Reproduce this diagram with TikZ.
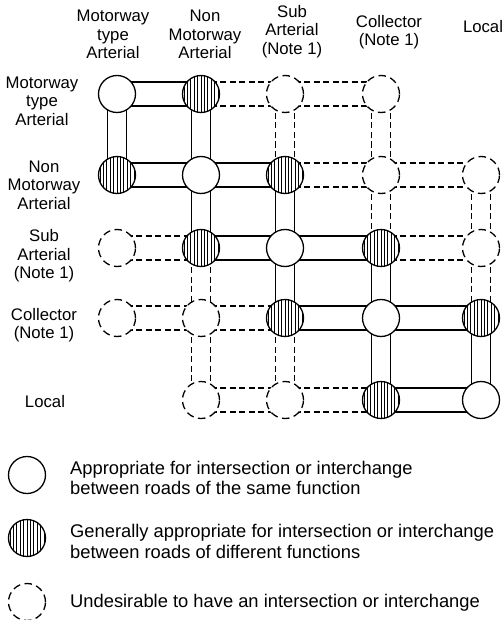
\documentclass[tikz,border=0pt]{standalone}
\usepackage{fontspec}
\setmainfont{Liberation Sans}
\usetikzlibrary{backgrounds}
\begin{document}
\begin{tikzpicture}[x=1bp,y=-1bp,
  jn/.style={circle, minimum size=37bp, inner sep=0pt, line width=1.3bp, draw=black, fill=white},
  same/.style={jn},
  diff/.style={jn, path picture={\foreach \k in {-6,...,6}{\draw[line width=0.8bp] ([xshift=\k*3.4bp]path picture bounding box.north) -- ([xshift=\k*3.4bp]path picture bounding box.south);}}},
  undes/.style={jn, dash pattern=on 7.5bp off 4.5bp},
  hroad/.style={draw=black, line width=1.2bp, double=white, double distance=22.8bp},
  vroad/.style={draw=black, line width=1.2bp, double=white, double distance=18.3bp},
  dashroad/.style={dash pattern=on 6bp off 3.5bp},
  lab/.style={font=\fontsize{16.8}{18.5}\selectfont, align=center, inner sep=0pt},
  leg/.style={font=\fontsize{18.4}{20.5}\selectfont, align=left, anchor=west, inner sep=0pt},
]
\useasboundingbox (0,0) rectangle (503,620);
% headers
\node[lab] (h1) at (113,34.5) {Motorway\\type\\Arterial};
\node[lab] (h2) at (205,34.5) {Non\\Motorway\\Arterial};
\node[lab] (h3) at (292,31.5) {Sub\\Arterial\\(Note 1)};
\node[lab] (h4) at (389,32) {Collector\\(Note 1)};
\node[lab] (h5) at (483,27) {Local};
% row labels
\node[lab] (r1) at (42,101) {Motorway\\type\\Arterial};
\node[lab] (r2) at (44,185) {Non\\Motorway\\Arterial};
\node[lab] (r3) at (44,256) {Sub\\Arterial\\(Note 1)};
\node[lab] (r4) at (44,325) {Collector\\(Note 1)};
\node[lab] (r5) at (45,402) {Local};
% junctions
\node[same]  (n11) at (117,94) {};
\node[diff]  (n12) at (201,94) {};
\node[undes] (n13) at (285,94) {};
\node[undes] (n14) at (381,94) {};
\node[diff]  (n21) at (117,175) {};
\node[same]  (n22) at (201,175) {};
\node[diff]  (n23) at (285,175) {};
\node[undes] (n24) at (381,175) {};
\node[undes] (n25) at (481,175) {};
\node[undes] (n31) at (117,248) {};
\node[diff]  (n32) at (201,248) {};
\node[same]  (n33) at (285,248) {};
\node[diff]  (n34) at (381,248) {};
\node[undes] (n35) at (481,248) {};
\node[undes] (n41) at (117,318) {};
\node[undes] (n42) at (201,318) {};
\node[diff]  (n43) at (285,318) {};
\node[same]  (n44) at (381,318) {};
\node[diff]  (n45) at (481,318) {};
\node[undes] (n52) at (201,400) {};
\node[undes] (n53) at (285,400) {};
\node[diff]  (n54) at (381,400) {};
\node[same]  (n55) at (481,400) {};
% legend
\node[same]  (l1) at (27,475) {};
\node[diff]  (l2) at (27,538) {};
\node[undes] (l3) at (27,602) {};
\node[leg] (t1) at (70,478) {Appropriate for intersection or interchange\\between roads of the same function};
\node[leg] (t2) at (70,541.5) {Generally appropriate for intersection or interchange\\between roads of different functions};
\node[leg] (t3) at (70,603) {Undesirable to have an intersection or interchange};
\begin{scope}[on background layer]
\fill[white] (0,0) rectangle (503,620);
% horizontal solid
\foreach \a/\b in {11/12,21/22,22/23,32/33,33/34,43/44,44/45,54/55}
  \draw[hroad] (n\a.center) -- (n\b.center);
% horizontal dashed
\foreach \a/\b in {12/13,13/14,23/24,24/25,31/32,34/35,41/42,42/43,52/53,53/54}
  \draw[hroad,dashroad] (n\a.center) -- (n\b.center);
% vertical solid
\foreach \a/\b in {11/21,12/22,22/32,23/33,33/43,34/44,44/54,45/55}
  \draw[vroad] (n\a.center) -- (n\b.center);
% vertical dashed
\foreach \a/\b in {32/42,42/52,13/23,43/53,14/24,24/34,25/35,35/45}
  \draw[vroad,dashroad] (n\a.center) -- (n\b.center);
\end{scope}
\end{tikzpicture}
\end{document}
